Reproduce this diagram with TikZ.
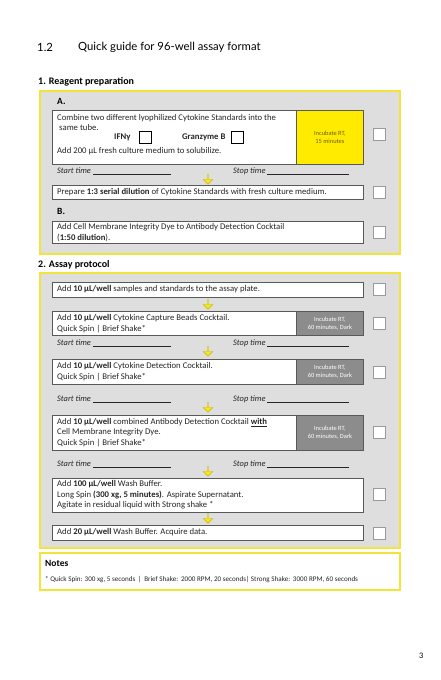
\documentclass[tikz,border=0pt]{standalone}
\usepackage{fontspec}
\setmainfont{Carlito}
\newfontfamily\titlefont{Lato}
\usetikzlibrary{shapes.arrows}
\definecolor{panelfill}{HTML}{DEDEDE}
\definecolor{panelline}{HTML}{F2E53A}
\definecolor{boxline}{HTML}{595959}
\definecolor{incgray}{HTML}{8C8C8C}
\definecolor{incyel}{HTML}{FFEB00}
\definecolor{incyeltext}{HTML}{6B6000}
\definecolor{chkline}{HTML}{9A9A9A}
\definecolor{arrfill}{HTML}{F5E61E}
\definecolor{arrline}{HTML}{C8B400}
\definecolor{txtgray}{HTML}{262626}
\begin{document}
\begin{tikzpicture}[x=1pt,y=-1pt,
  panel/.style={draw=panelline, line width=1.4pt, fill=panelfill},
  notepanel/.style={draw=panelline, line width=1.4pt, fill=white},
  stepbox/.style={draw=boxline, line width=0.8pt, fill=white, anchor=north west, inner sep=0pt},
  inccell/.style={draw=boxline, line width=0.8pt, fill=incgray, anchor=north west, inner sep=0pt,
     text=white, font=\fontsize{6.4}{7.6}\selectfont, align=center},
  incyellow/.style={draw=boxline, line width=0.8pt, fill=incyel, anchor=north west, inner sep=0pt,
     text=incyeltext, font=\fontsize{6.4}{7.6}\selectfont, align=center},
  chk/.style={draw=chkline, line width=0.5pt, fill=white, minimum width=12pt, minimum height=12pt, inner sep=0pt},
  minichk/.style={draw=black, line width=0.7pt, fill=white, minimum width=12pt, minimum height=12pt, inner sep=0pt},
  txt/.style={anchor=west, inner sep=0pt, text=txtgray, font=\fontsize{8.7}{10.6}\selectfont, align=left},
  btxt/.style={anchor=west, inner sep=0pt, text=txtgray, font=\fontsize{8.7}{10.6}\selectfont\bfseries},
  head/.style={anchor=west, inner sep=0pt, text=black, font=\fontsize{10}{12}\selectfont\bfseries},
  subhead/.style={anchor=west, inner sep=0pt, text=black, font=\fontsize{9.5}{11}\selectfont\bfseries},
  timerow/.style={anchor=west, inner sep=0pt, text=txtgray, font=\fontsize{8.4}{10}\selectfont\itshape},
  yarr/.style={single arrow, draw=arrline, fill=arrfill, line width=0.4pt, minimum width=9.5pt,
     minimum height=10pt, single arrow head extend=1.8pt, shape border rotate=270, inner sep=0pt}
]
\useasboundingbox (0,0) rectangle (440,680);
\fill[white] (0,0) rectangle (440,680);

% title
\node[anchor=west, inner sep=0pt, font=\titlefont\fontsize{11.3}{13}\selectfont] (num) at (37,47) {1.2};
\node[anchor=west, inner sep=0pt, font=\titlefont\fontsize{11.3}{13}\selectfont] (title) at (78,47) {Quick guide for 96-well assay format};

% section 1
\node[head] (h1) at (38,82) {1. Reagent preparation};
\draw[panel] (40,91) rectangle (400,254);
\node[subhead] (hA) at (57,101) {A.};

\node[stepbox, minimum width=244pt, minimum height=54pt] (b1) at (52,110) {};
\node[incyellow, minimum width=67pt, minimum height=54pt] (y1) at (296,110) {Incubate RT,\\15 minutes};
\node[txt] (b1l1) at (57,118) {Combine two different lyophilized Cytokine Standards into the};
\node[txt] (b1l2) at (59,128) {same tube.};
\node[btxt] (ifn) at (114,137) {IFNγ};
\node[minichk] (cifn) at (145,137) {};
\node[btxt] (gzb) at (182,137) {Granzyme B};
\node[minichk] (cgzb) at (237,137) {};
\node[txt] (b1l3) at (57,151) {Add 200 µL fresh culture medium to solubilize.};
\node[chk] (c1) at (379,134) {};

\node[timerow] (st1) at (57,171) {Start time \rule[-1pt]{78pt}{0.4pt}};
\node[timerow] (sp1) at (233,171) {Stop time \rule[-1pt]{82pt}{0.4pt}};
\node[yarr] (a1) at (208,179) {};

\node[stepbox, minimum width=311pt, minimum height=14pt] (b2) at (52,185) {};
\node[txt] (b2t) at (57,192) {Prepare \textbf{1:3 serial dilution} of Cytokine Standards with fresh culture medium.};
\node[chk] (c2) at (379,192) {};

\node[subhead] (hB) at (57,211) {B.};
\node[stepbox, minimum width=311pt, minimum height=22pt] (b3) at (52,221) {};
\node[txt] (b3t) at (57,232.5) {Add Cell Membrane Integrity Dye to Antibody Detection Cocktail\\(\textbf{1:50 dilution}).};
\node[chk] (c3) at (379,232) {};

% section 2
\node[head] (h2) at (38,265) {2. Assay protocol};
\draw[panel] (40,273) rectangle (400,548);

\node[stepbox, minimum width=311pt, minimum height=15pt] (b4) at (52,282) {};
\node[txt] (b4t) at (57,289.5) {Add \textbf{10 µL/well} samples and standards to the assay plate.};
\node[chk] (c4) at (379,289) {};
\node[yarr] (a2) at (208,304) {};

\node[stepbox, minimum width=244pt, minimum height=24pt] (b5) at (52,311) {};
\node[inccell, minimum width=67pt, minimum height=24pt] (g5) at (296,311) {Incubate RT,\\60 minutes, Dark};
\node[txt] (b5t) at (57,323.5) {Add \textbf{10 µL/well} Cytokine Capture Beads Cocktail.\\Quick Spin | Brief Shake*};
\node[chk] (c5) at (379,323) {};

\node[timerow] (st2) at (57,343) {Start time \rule[-1pt]{78pt}{0.4pt}};
\node[timerow] (sp2) at (233,343) {Stop time \rule[-1pt]{82pt}{0.4pt}};
\node[yarr] (a3) at (208,351) {};

\node[stepbox, minimum width=244pt, minimum height=25pt] (b6) at (52,359) {};
\node[inccell, minimum width=67pt, minimum height=25pt] (g6) at (296,359) {Incubate RT,\\60 minutes, Dark};
\node[txt] (b6t) at (57,371.5) {Add \textbf{10 µL/well} Cytokine Detection Cocktail.\\Quick Spin | Brief Shake*};
\node[chk] (c6) at (379,372) {};

\node[timerow] (st3) at (57,399) {Start time \rule[-1pt]{78pt}{0.4pt}};
\node[timerow] (sp3) at (233,399) {Stop time \rule[-1pt]{82pt}{0.4pt}};
\node[yarr] (a4) at (208,407) {};

\node[stepbox, minimum width=244pt, minimum height=35pt] (b7) at (52,415) {};
\node[inccell, minimum width=67pt, minimum height=35pt] (g7) at (296,415) {Incubate RT,\\60 minutes, Dark};
\node[txt] (b7t) at (57,432.5) {Add \textbf{10 µL/well} combined Antibody Detection Cocktail \textbf{\underline{with}}\\Cell Membrane Integrity Dye.\\Quick Spin | Brief Shake*};
\node[chk] (c7) at (379,432) {};

\node[timerow] (st4) at (57,464) {Start time \rule[-1pt]{78pt}{0.4pt}};
\node[timerow] (sp4) at (233,464) {Stop time \rule[-1pt]{82pt}{0.4pt}};
\node[yarr] (a5) at (208,471) {};

\node[stepbox, minimum width=311pt, minimum height=34pt] (b8) at (52,478) {};
\node[txt] (b8t) at (57,495) {Add \textbf{100 µL/well} Wash Buffer.\\Long Spin \textbf{(300 xg, 5 minutes)}. Aspirate Supernatant.\\Agitate in residual liquid with Strong shake *};
\node[chk] (c8) at (379,494) {};
\node[yarr] (a6) at (208,518) {};

\node[stepbox, minimum width=311pt, minimum height=15pt] (b9) at (52,525) {};
\node[txt] (b9t) at (57,532.5) {Add \textbf{20 µL/well} Wash Buffer. Acquire data.};
\node[chk] (c9) at (379,533) {};

% notes
\draw[notepanel] (40,553) rectangle (400,590);
\node[subhead] (hn) at (45,563) {Notes};
\node[anchor=west, inner sep=0pt, text=txtgray, font=\fontsize{7.1}{8}\selectfont] (fn) at (45,580) {* Quick Spin: 300 xg, 5 seconds \,|\, Brief Shake:\,\ 2000 RPM, 20 seconds| Strong Shake:\,\ 3000 RPM, 60 seconds};

% page number
\node[anchor=west, inner sep=0pt, font=\titlefont\fontsize{7.5}{9}\selectfont] (pg) at (419,656) {3};
\end{tikzpicture}
\end{document}
